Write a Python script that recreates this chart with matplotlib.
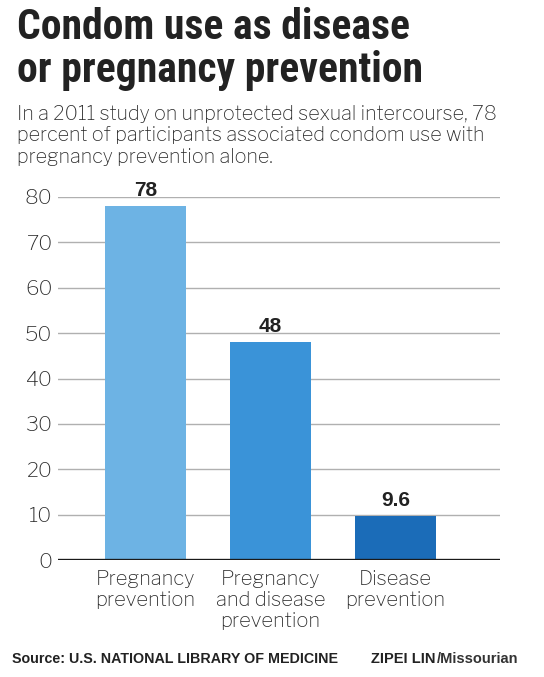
import matplotlib
matplotlib.use("Agg")
import matplotlib.pyplot as plt
from matplotlib import font_manager as fm

categories = ["Pregnancy\nprevention", "Pregnancy\nand disease\nprevention", "Disease\nprevention"]
values = [78, 48, 9.6]
value_labels = ["78", "48", "9.6"]
yticks = [0, 10, 20, 30, 40, 50, 60, 70, 80]
colors = ["#6DB3E4", "#3A93D8", "#1B6CB8"]
title_lines = ["Condom use as disease", "or pregnancy prevention"]
subtitle_lines = ["In a 2011 study on unprotected sexual intercourse, 78",
                  "percent of participants associated condom use with",
                  "pregnancy prevention alone."]

W, H = 544, 677
names = {f.name for f in fm.fontManager.ttflist}
def pick(*cands):
    for c in cands:
        if c in names:
            return c
    return "DejaVu Sans"
title_font = pick("Roboto Condensed", "Archivo Narrow", "Liberation Sans")
body_font = pick("Libre Franklin", "Liberation Sans")
bold_font = pick("Liberation Sans")

fig = plt.figure(figsize=(W / 100, H / 100), dpi=100)
ax = fig.add_axes([58 / W, (H - 560) / H, 442 / W, 363 / H])

x = list(range(len(values)))
ax.bar(x, values, width=0.648, color=colors, zorder=3)
ax.set_xlim(-0.70, 2.836)
ax.set_ylim(0, 80)
ax.set_yticks(yticks)
ax.set_yticklabels([str(t) for t in yticks], fontsize=15, color="#2b2b2b", fontfamily=body_font)
ax.set_xticks(x)
ax.set_xticklabels(categories, fontsize=14.5, color="#2b2b2b", fontfamily=body_font, linespacing=1.22)
ax.tick_params(axis="both", length=0)
ax.tick_params(axis="y", pad=4)
ax.tick_params(axis="x", pad=7)
for s in ax.spines.values():
    s.set_visible(False)
ax.grid(axis="y", color="#B0B0B0", linewidth=1, zorder=0)
ax.axhline(0, color="#1a1a1a", linewidth=2.4, zorder=4)

for xi, v, lab in zip(x, values, value_labels):
    ax.text(xi, v + 2.2, lab, ha="center", va="baseline", fontsize=15, fontweight="bold",
            color="#222222", fontfamily=bold_font, clip_on=False)

renderer = fig.canvas.get_renderer()

def fit_text(xpx, ypx, s, target_w, size, **kw):
    t = fig.text(xpx / W, 1 - ypx / H, s, fontsize=size, va="baseline", **kw)
    w = t.get_window_extent(renderer).width
    t.set_fontsize(size * target_w / w)
    return t

t1 = fit_text(17, 39, title_lines[0], 393, 30, fontweight="bold", fontfamily=title_font, color="#222222")
tsize = t1.get_fontsize()
fig.text(17 / W, 1 - 82 / H, title_lines[1], fontsize=tsize, fontweight="bold",
         fontfamily=title_font, color="#222222", va="baseline")

s1 = fit_text(17, 120, subtitle_lines[0], 481, 14, fontfamily=body_font, color="#2b2b2b")
ssize = s1.get_fontsize()
for yb, line in zip([141.5, 163], subtitle_lines[1:]):
    fig.text(17 / W, 1 - yb / H, line, fontsize=ssize, fontfamily=body_font,
             color="#2b2b2b", va="baseline")

fit_text(12, 663, "Source: U.S. NATIONAL LIBRARY OF MEDICINE", 324, 10,
         fontweight="bold", fontfamily=bold_font, color="#222222")
t = fig.text(371 / W, 1 - 663 / H, "ZIPEI LIN", fontsize=10.5, fontweight="bold",
             fontfamily=bold_font, color="#222222", va="baseline")
bb = t.get_window_extent(renderer)
fig.text((bb.x1 + 1) / W, 1 - 663 / H, "/Missourian", fontsize=10.5, fontweight="bold",
         fontfamily=bold_font, color="#333333", va="baseline")

fig.savefig("out.png", dpi=100, facecolor="white")
